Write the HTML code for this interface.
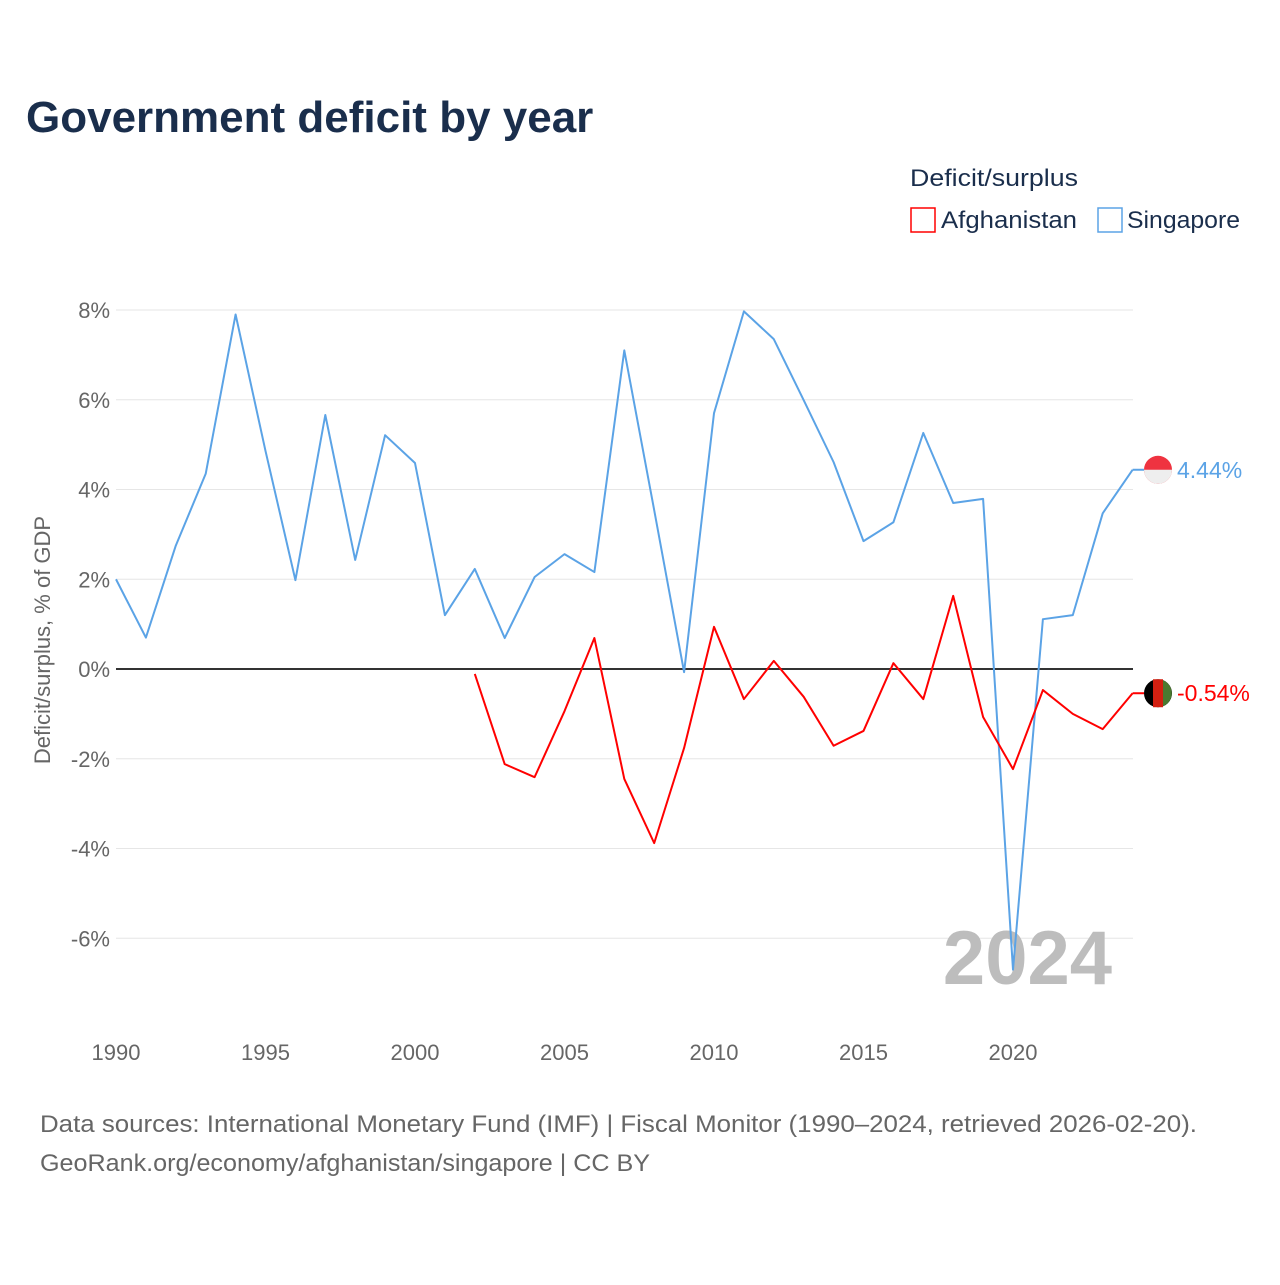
<!DOCTYPE html>
<html><head><meta charset="utf-8">
<style>
body{margin:0;background:#fff;font-family:"Liberation Sans",sans-serif;}
svg text{font-family:"Liberation Sans",sans-serif;}
</style></head>
<body>
<svg id="chart" width="1280" height="1280" viewBox="0 0 1280 1280" xmlns="http://www.w3.org/2000/svg">
<text x="26" y="132" font-size="44" font-weight="bold" fill="#1a2e4c">Government deficit by year</text>
<text x="910" y="186" font-size="24" fill="#1a2e4c" textLength="168" lengthAdjust="spacingAndGlyphs">Deficit/surplus</text>
<g>
<rect x="911" y="208" width="24" height="24" fill="none" stroke="#f00" stroke-width="1.5"/>
<text x="941" y="228" font-size="24" fill="#1a2e4c" textLength="136" lengthAdjust="spacingAndGlyphs">Afghanistan</text></g>
<g>
<rect x="1098" y="208" width="24" height="24" fill="none" stroke="#5ba3e6" stroke-width="1.5"/>
<text x="1127" y="228" font-size="24" fill="#1a2e4c" textLength="113" lengthAdjust="spacingAndGlyphs">Singapore</text></g>
<g id="grid"></g>
<g id="xticks"></g>
<text transform="translate(50,640) rotate(-90)" text-anchor="middle" font-size="22" fill="#666">Deficit/surplus, % of GDP</text>
<text x="1112" y="984" text-anchor="end" font-size="76" font-weight="bold" fill="#bdbdbd">2024</text>
<g id="series"></g>
<text x="40" y="1132" font-size="24" fill="#666" textLength="1157" lengthAdjust="spacingAndGlyphs">Data sources: International Monetary Fund (IMF) | Fiscal Monitor (1990–2024, retrieved 2026-02-20).</text>
<text x="40" y="1171" font-size="24" fill="#666" textLength="610" lengthAdjust="spacingAndGlyphs">GeoRank.org/economy/afghanistan/singapore | CC BY</text>
</svg>
<script>
const years = [];for(let y=1990;y<=2024;y++)years.push(y);
const singapore = [2.0,0.7,2.75,4.35,7.9,4.86,1.98,5.66,2.43,5.21,4.59,1.2,2.23,0.69,2.05,2.56,2.16,7.1,3.54,-0.07,5.7,7.97,7.35,5.99,4.61,2.85,3.27,5.26,3.7,3.79,-6.7,1.11,1.2,3.47,4.44];
const afghanYears = [2002,2003,2004,2005,2006,2007,2008,2009,2010,2011,2012,2013,2014,2015,2016,2017,2018,2019,2020,2021,2022,2023,2024];
const afghanistan = [-0.11,-2.12,-2.41,-0.94,0.69,-2.45,-3.88,-1.76,0.94,-0.67,0.18,-0.62,-1.71,-1.38,0.13,-0.67,1.63,-1.07,-2.23,-0.47,-1.0,-1.34,-0.54];
const yTicks = [8,6,4,2,0,-2,-4,-6];
const xTicks = [1990,1995,2000,2005,2010,2015,2020];
const NS="http://www.w3.org/2000/svg";
const xs = y => 116 + (y-1990)*(1013-116)/30;
const ys = v => 669 - v*(669-310)/8;
function mk(tag,attrs,parent){const e=document.createElementNS(NS,tag);for(const k in attrs)e.setAttribute(k,attrs[k]);parent.appendChild(e);return e;}
const grid=document.getElementById('grid');
yTicks.forEach(t=>{
  const l=mk('line',{x1:116,x2:1133,y1:ys(t),y2:ys(t),stroke:t===0?'#333':'#e6e6e6','stroke-width':t===0?2:1},grid);
  
  
  const tx=mk('text',{x:110,y:ys(t)+8,'text-anchor':'end','font-size':22,fill:'#666'},grid);
  tx.textContent=t+'%';
  
  
});
const xt=document.getElementById('xticks');
xTicks.forEach(t=>{
  const tx=mk('text',{x:xs(t),y:1060,'text-anchor':'middle','font-size':22,fill:'#666'},xt);
  tx.textContent=t;
  
  
});
const s=document.getElementById('series');
function line(xv,vals,color,name){
  const p=mk('polyline',{points:vals.map((v,i)=>xs(xv[i])+','+ys(v)).join(' '),fill:'none',stroke:color,'stroke-width':2,'stroke-linejoin':'round'},s);
  
  
  const lv=vals[vals.length-1], lx=xs(xv[xv.length-1]);
  const c=mk('circle',{cx:1158,cy:ys(lv),r:14,fill:name==='singapore'?'#ef3340':'#000'},s);
  
  
  mk('line',{x1:lx,x2:1144,y1:ys(lv),y2:ys(lv),stroke:color,'stroke-width':2},s);
  if(name==='singapore'){mk('path',{d:`M1144 ${ys(lv)} A14 14 0 0 0 1172 ${ys(lv)} Z`,fill:'#eee'},s);}
  else{mk('rect',{x:1153,y:ys(lv)-14,width:10,height:28,fill:'#d32011'},s);mk('path',{d:`M1163 ${ys(lv)-13} A14 14 0 0 1 1163 ${ys(lv)+13} Z`,fill:'#4a7a30'},s);}
  const t=mk('text',{x:1177,y:ys(lv)+8,'font-size':23,fill:color},s);
  t.textContent=lv.toFixed(2)+'%';
  
  
}
line(years,singapore,'#5ba3e6','singapore');
line(afghanYears,afghanistan,'#f00','afghanistan');
</script>
</body></html>
